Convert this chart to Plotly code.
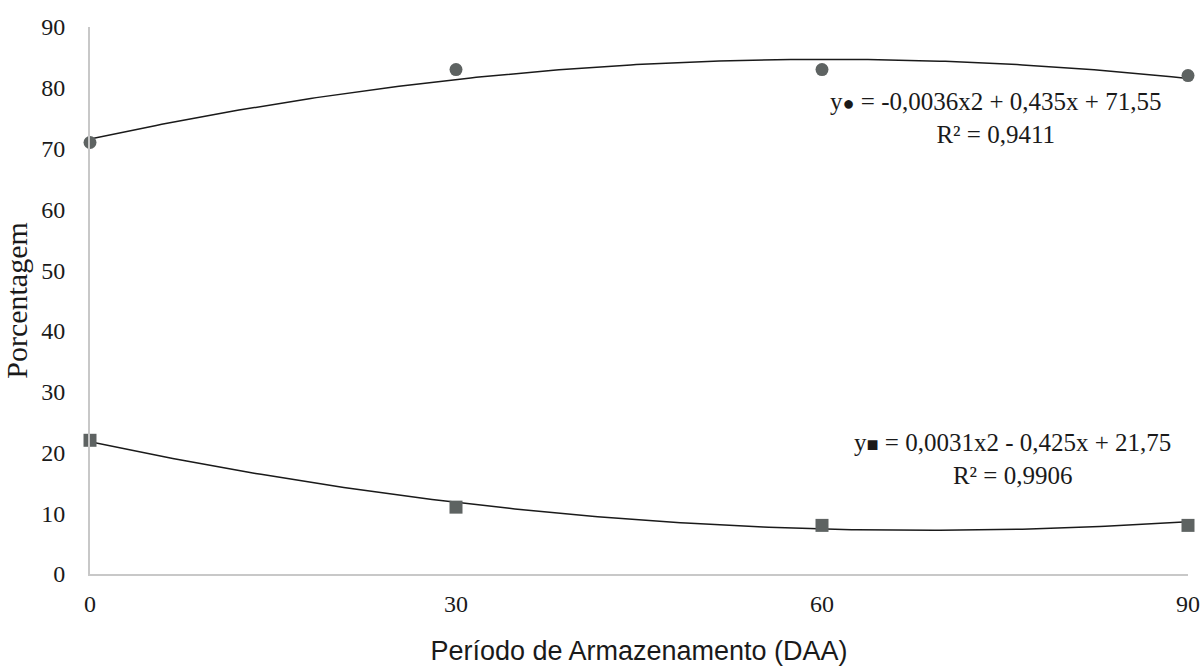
import numpy as np
import plotly.graph_objects as go

# Storage period (days after harvest)
dias = [0, 30, 60, 90]
# Observed percentages
circulos = [71, 83, 83, 82]
quadrados = [22, 11, 8, 8]

# Quadratic trendline coefficients (a, b, c) for y = a*x^2 + b*x + c
coef_circ = (-0.0036, 0.435, 71.55)
coef_quad = (0.0031, -0.425, 21.75)
r2_circ = "0,9411"
r2_quad = "0,9906"

x_tick_vals = [0, 30, 60, 90]
y_tick_vals = [0, 10, 20, 30, 40, 50, 60, 70, 80, 90]

serif = "Liberation Serif, Times New Roman, serif"
sans = "Liberation Sans, Arial, sans-serif"
marker_gray = "#5e6362"
text_color = "#1a1a1a"

xs = np.linspace(0, 90, 200)


def poly(c, x):
    return c[0] * x ** 2 + c[1] * x + c[2]


fig = go.Figure()
fig.add_trace(go.Scatter(x=xs, y=poly(coef_circ, xs), mode="lines",
                         line=dict(color=text_color, width=1.5), cliponaxis=False,
                         hoverinfo="skip"))
fig.add_trace(go.Scatter(x=xs, y=poly(coef_quad, xs), mode="lines",
                         line=dict(color=text_color, width=1.5), cliponaxis=False,
                         hoverinfo="skip"))
fig.add_trace(go.Scatter(x=dias, y=circulos, mode="markers", cliponaxis=False,
                         marker=dict(symbol="circle", size=13, color=marker_gray)))
fig.add_trace(go.Scatter(x=dias, y=quadrados, mode="markers", cliponaxis=False,
                         marker=dict(symbol="square", size=13, color=marker_gray)))

fig.add_annotation(x=74.2, y=75.0, xref="x", yref="y", showarrow=False,
                   text="y<span style='font-size:20px'>●</span> = -0,0036x2 + 0,435x + 71,55<br>R² = " + r2_circ,
                   font=dict(family=serif, size=25, color=text_color), align="center")
fig.add_annotation(x=75.6, y=18.9, xref="x", yref="y", showarrow=False,
                   text="y<span style='font-size:20px'>■</span> = 0,0031x2 - 0,425x + 21,75<br>R² = " + r2_quad,
                   font=dict(family=serif, size=25, color=text_color), align="center")

fig.update_layout(
    width=1203, height=667,
    paper_bgcolor="white", plot_bgcolor="white",
    margin=dict(l=90, r=15, t=27, b=93),
    showlegend=False,
    xaxis=dict(range=[0, 90], tickvals=x_tick_vals, showgrid=False,
               ticks="outside", ticklen=7, tickcolor="rgba(0,0,0,0)",
               zeroline=False, showline=True, linecolor="#c8c8c8", linewidth=2,
               automargin=False,
               tickfont=dict(family=serif, size=24, color=text_color),
               title=dict(text="Período de Armazenamento (DAA)", standoff=25,
                          font=dict(family=sans, size=27, color=text_color))),
    yaxis=dict(range=[0, 90], tickvals=y_tick_vals, ticks="", showgrid=False,
               zeroline=False, showline=True, linecolor="#c8c8c8", linewidth=2,
               ticklabelstandoff=18, automargin=False,
               tickfont=dict(family=serif, size=24, color=text_color),
               title=dict(text="Porcentagem", standoff=6,
                          font=dict(family=serif, size=30, color=text_color))),
)

fig.write_html("out.html")
